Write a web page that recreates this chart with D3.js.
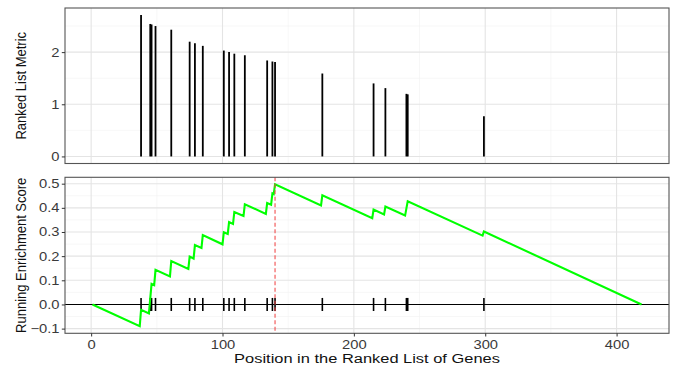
<!DOCTYPE html>
<html>
<head>
<meta charset="utf-8">
<script src="https://cdn.jsdelivr.net/npm/d3@7"></script>
<style>
  html, body { margin: 0; padding: 0; background: #fff; }
  svg { display: block; font-family: "Liberation Sans", Arial, sans-serif; }
</style>
</head>
<body>
<svg id="chart" width="677" height="368"></svg>
<script>
// ---- data ----
const hitPositions = [38, 45, 46, 49, 61, 75, 79, 85, 101, 105, 109, 117, 134, 138, 140, 176, 215, 224, 240, 241, 299];
const metricValues = [2.71, 2.54, 2.53, 2.50, 2.43, 2.20, 2.17, 2.12, 2.03, 2.00, 1.97, 1.94, 1.84, 1.82, 1.81, 1.59, 1.40, 1.31, 1.20, 1.19, 0.77];
const esPositions = [1, 37, 38, 44, 45, 46, 48, 49, 60, 61, 74, 75, 78, 79, 84, 85, 100, 101, 104, 105, 108, 109, 116, 117, 133, 134, 137, 138, 139, 140, 175, 176, 214, 215, 223, 224, 239, 240, 241, 298, 299, 419];
const esScores = [0, -0.090, -0.022, -0.037, 0.025, 0.085, 0.080, 0.143, 0.116, 0.180, 0.147, 0.198, 0.190, 0.246, 0.234, 0.287, 0.249, 0.299, 0.292, 0.341, 0.333, 0.383, 0.366, 0.415, 0.375, 0.420, 0.413, 0.460, 0.457, 0.497, 0.410, 0.452, 0.357, 0.393, 0.373, 0.405, 0.368, 0.398, 0.427, 0.285, 0.302, 0.0];
const peakPosition = 140;
const xTicks = [0, 100, 200, 300, 400];
const xMinorTicks = [50, 150, 250, 350];
const metricTicks = [0, 1, 2];
const metricMinorTicks = [0.5, 1.5, 2.5];
const esTicks = [-0.1, 0.0, 0.1, 0.2, 0.3, 0.4, 0.5];
const esMinorTicks = [-0.05, 0.05, 0.15, 0.25, 0.35, 0.45];
const xTitle = "Position in the Ranked List of Genes";
const metricTitle = "Ranked List Metric";
const esTitle = "Running Enrichment Score";

// ---- layout ----
const svg = d3.select("#chart");
const left = 65, right = 669;
const top1 = 8, bot1 = 163.5;
const top2 = 177.3, bot2 = 333.3;
const stretch = 1.18;
const tickFont = 12.5;

const x = d3.scaleLinear().domain([-19.9, 439.9]).range([left, right]);
const y1 = d3.scaleLinear().domain([-0.1355, 2.846]).range([bot1, top1]);
const y2 = d3.scaleLinear().domain([-0.1194, 0.5264]).range([bot2, top2]);

function panelGrid(yScale, yMajor, yMinor, t, b) {
  const g = svg.append("g");
  g.selectAll("line.ymin").data(yMinor).join("line")
    .attr("x1", left).attr("x2", right)
    .attr("y1", d => yScale(d)).attr("y2", d => yScale(d))
    .attr("stroke", "#f1f1f1").attr("stroke-width", 0.6);
  g.selectAll("line.xmin").data(xMinorTicks).join("line")
    .attr("y1", t).attr("y2", b)
    .attr("x1", d => x(d)).attr("x2", d => x(d))
    .attr("stroke", "#f1f1f1").attr("stroke-width", 0.6);
  g.selectAll("line.ymaj").data(yMajor).join("line")
    .attr("x1", left).attr("x2", right)
    .attr("y1", d => yScale(d)).attr("y2", d => yScale(d))
    .attr("stroke", "#e4e4e4").attr("stroke-width", 1.1);
  g.selectAll("line.xmaj").data(xTicks).join("line")
    .attr("y1", t).attr("y2", b)
    .attr("x1", d => x(d)).attr("x2", d => x(d))
    .attr("stroke", "#e4e4e4").attr("stroke-width", 1.1);
}

function leftAxis(yScale, ticks, fmt) {
  const ax = svg.append("g").attr("transform", `translate(${left},0)`)
    .call(d3.axisLeft(yScale).tickValues(ticks).tickFormat(fmt).tickSize(3.2).tickPadding(2.3));
  ax.select(".domain").remove();
  ax.selectAll(".tick line").attr("stroke", "#333").attr("stroke-width", 1);
  ax.selectAll(".tick text")
    .attr("font-size", tickFont).attr("fill", "#3a3a3a")
    .attr("font-family", "Liberation Sans, Arial, sans-serif")
    .attr("x", -5.5 / stretch)
    .attr("transform", `scale(${stretch},1)`);
}

// ---------- top panel ----------
panelGrid(y1, metricTicks, metricMinorTicks, top1, bot1);
svg.append("g").selectAll("line").data(hitPositions).join("line")
  .attr("x1", d => x(d)).attr("x2", d => x(d))
  .attr("y1", y1(0)).attr("y2", (d, i) => y1(metricValues[i]))
  .attr("stroke", "#000").attr("stroke-width", 1.8);
svg.append("rect").attr("x", left).attr("y", top1).attr("width", right - left).attr("height", bot1 - top1)
  .attr("fill", "none").attr("stroke", "#555").attr("stroke-width", 1.1);
leftAxis(y1, metricTicks, d3.format("d"));

// ---------- bottom panel ----------
panelGrid(y2, esTicks, esMinorTicks, top2, bot2);
svg.append("line").attr("x1", left).attr("x2", right).attr("y1", y2(0)).attr("y2", y2(0))
  .attr("stroke", "#000").attr("stroke-width", 1.1);
svg.append("g").selectAll("line").data(hitPositions).join("line")
  .attr("x1", d => x(d)).attr("x2", d => x(d))
  .attr("y1", y2(-0.027)).attr("y2", y2(0.027))
  .attr("stroke", "#000").attr("stroke-width", 1.6);
const esLine = d3.line().x(d => x(d[0])).y(d => y2(d[1]));
svg.append("path").datum(esPositions.map((p, i) => [p, esScores[i]]))
  .attr("d", esLine).attr("fill", "none").attr("stroke", "#00ff00")
  .attr("stroke-width", 2.1).attr("stroke-linejoin", "miter");
svg.append("line").attr("x1", x(peakPosition)).attr("x2", x(peakPosition))
  .attr("y1", top2).attr("y2", bot2)
  .attr("stroke", "#f04545").attr("stroke-opacity", 0.8).attr("stroke-width", 1.3)
  .attr("stroke-dasharray", "4,2.5");
svg.append("rect").attr("x", left).attr("y", top2).attr("width", right - left).attr("height", bot2 - top2)
  .attr("fill", "none").attr("stroke", "#555").attr("stroke-width", 1.1);
leftAxis(y2, esTicks, d => d3.format(".1f")(d).replace("-", "\u2212"));

// x axis
const xa = svg.append("g").attr("transform", `translate(0,${bot2})`)
  .call(d3.axisBottom(x).tickValues(xTicks).tickFormat(d3.format("d")).tickSize(3.2).tickPadding(3.4));
xa.select(".domain").remove();
xa.selectAll(".tick line").attr("stroke", "#333").attr("stroke-width", 1);
xa.selectAll(".tick text")
  .attr("font-size", tickFont).attr("fill", "#3a3a3a")
  .attr("font-family", "Liberation Sans, Arial, sans-serif")
  .attr("transform", `scale(${stretch},1)`);

// titles
svg.append("text")
  .attr("transform", `translate(${(left + right) / 2},362.7) scale(${1.265 * 13 / 13.5 * 1.0},1)`)
  .attr("text-anchor", "middle").attr("font-size", 13.5).attr("fill", "#111")
  .text(xTitle);
svg.append("text")
  .attr("transform", `translate(25.5,${(top1 + bot1) / 2}) scale(${stretch},1) rotate(-90)`)
  .attr("text-anchor", "middle").attr("font-size", 13).attr("fill", "#111")
  .text(metricTitle);
svg.append("text")
  .attr("transform", `translate(25.5,${(top2 + bot2) / 2}) scale(${stretch},1) rotate(-90)`)
  .attr("text-anchor", "middle").attr("font-size", 13).attr("fill", "#111")
  .text(esTitle);
</script>
</body>
</html>
